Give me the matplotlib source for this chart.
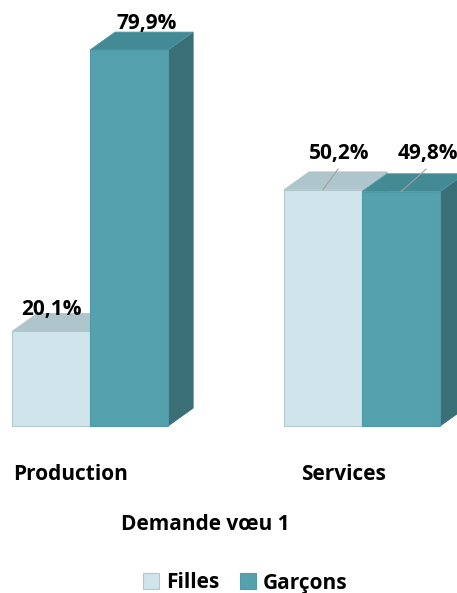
#!/usr/bin/env python3
"""
Demande voeu 1 - Filles / Garcons par secteur (pseudo 3D bars)
"""
import matplotlib.pyplot as plt
from matplotlib.patches import Polygon
import numpy as np

plt.rcParams['font.family'] = ['Open Sans', 'DejaVu Sans']
plt.rcParams['font.weight'] = 'bold'

# Data
categories = ['Production', 'Services']
series = ['Filles', 'Garçons']
filles = [20.1, 50.2]
garcons = [79.9, 49.8]
axis_title = 'Demande vœu 1'

# Styles
face_colors = {'Filles': '#cfe5eb', 'Garçons': '#55a1ad'}
top_colors = {'Filles': '#aec6cb', 'Garçons': '#438a94'}
side_colors = {'Filles': '#9fbcc1', 'Garçons': '#3b6f77'}
edge_colors = {'Filles': '#b3c8cc', 'Garçons': '#4f9aa5'}
FS = 15

width = 0.287
depth_x, depth_y = 0.092, 3.8
# label offsets (dx, dy) from the front top of each bar, and leader line flag
label_offsets = {
    'Filles': [(0.0, 4.6, False), (0.06, 7.8, True)],
    'Garçons': [(0.063, 5.7, False), (0.097, 8.2, True)],
}


def fmt(v):
    return f'{v:.1f}'.replace('.', ',') + '%'


fig = plt.figure(figsize=(4.57, 5.93), dpi=100)
ax = fig.add_axes([0, 0, 1, 1])
ax.set_xlim(-0.331, 1.349)
ax.set_ylim(-35.49, 90.52)
ax.axis('off')

x = np.arange(len(categories))
handles = []
for name, values, shift in [('Filles', filles, -width / 2), ('Garçons', garcons, width / 2)]:
    pos = x + shift
    bars = ax.bar(pos, values, width=width, color=face_colors[name],
                  edgecolor=edge_colors[name], linewidth=0.8, label=name, zorder=3)
    handles.append(bars)
    for i, (p, v) in enumerate(zip(pos, values)):
        left, right = p - width / 2, p + width / 2
        top = Polygon([(left, v), (right, v), (right + depth_x, v + depth_y),
                       (left + depth_x, v + depth_y)], closed=True,
                      facecolor=top_colors[name], edgecolor=edge_colors[name],
                      linewidth=0.6, zorder=3)
        side = Polygon([(right, 0), (right + depth_x, depth_y),
                        (right + depth_x, v + depth_y), (right, v)], closed=True,
                       facecolor=side_colors[name], edgecolor=side_colors[name],
                       linewidth=0.6, zorder=2)
        ax.add_patch(side)
        ax.add_patch(top)
        dx, dy, leader = label_offsets[name][i]
        ax.text(p + dx, v + dy, fmt(v), ha='center', va='center',
                fontsize=FS, fontweight='bold', color='black', zorder=5)
        if leader:
            ax.plot([p + dx - 0.005, p], [v + dy - 3.4, v], color='#a0a0a0',
                    linewidth=0.8, zorder=4)

# Garçons front faces above Filles sides
for b in handles[1]:
    b.set_zorder(4)

for xi, cat in zip(x, categories):
    ax.text(xi - 0.07, -10.4, cat, ha='center', va='center',
            fontsize=FS, fontweight='bold', color='black')

fig.text(205 / 457, 1 - 524 / 593, axis_title, ha='center', va='center',
         fontsize=FS, fontweight='bold', color='black')

fig.legend(handles=handles, labels=series, loc='center',
           bbox_to_anchor=(245 / 457, 1 - 583 / 593), ncol=2, frameon=False,
           handlelength=0.8, handleheight=0.8, handletextpad=0.3,
           columnspacing=1.0, prop={'size': FS, 'weight': 'bold'})

plt.savefig('out.png', dpi=100)
plt.close()
